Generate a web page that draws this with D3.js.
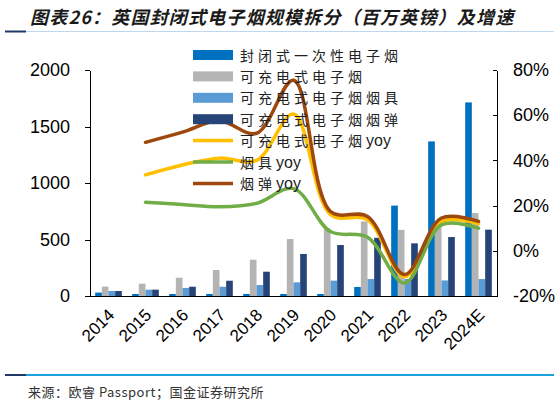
<!DOCTYPE html>
<html>
<head>
<meta charset="utf-8">
<script src="https://cdn.jsdelivr.net/npm/d3@7"></script>
<style>
	body { margin: 0; background: #fff; }
	svg { display: block; }
	.axis text { font-family: "Liberation Sans", Arial, sans-serif; font-size: 18px; fill: #000; }
	.axis path, .axis line { stroke: #000; stroke-width: 1; shape-rendering: crispEdges; }
</style>
</head>
<body>
<svg id="chart"></svg>
<script>
// values (百万英镑, yoy in %)
var years = ["2014", "2015", "2016", "2017", "2018", "2019", "2020", "2021", "2022", "2023", "2024E"];
var closedDisposable = [30, 18, 18, 18, 18, 18, 18, 80, 800, 1368, 1713];
var rechargeable = [83, 109, 162, 230, 321, 504, 600, 660, 585, 655, 734];
var rechargeableDevice = [44, 56, 71, 82, 97, 121, 136, 150, 150, 138, 150];
var rechargeablePod = [44, 56, 82, 135, 215, 372, 451, 515, 466, 522, 587];
var rechargeableYoy = [null, 33.6, 38, 41, 40, 60.5, 16, 13.7, -11.5, 13, 12];
var deviceYoy = [null, 21.5, 20.5, 19.5, 21, 27.5, 8.5, 6, -14.2, 11.5, 10];
var podYoy = [null, 48, 52.5, 57.5, 52, 75.5, 17.4, 15.2, -10.5, 14.5, 13];

var leftTicks = [0, 500, 1000, 1500, 2000];
var rightTicks = [-20, 0, 20, 40, 60, 80];

var barSeries = [
	{ name: "封闭式一次性电子烟", values: closedDisposable, color: "#0070C0" },
	{ name: "可充电式电子烟", values: rechargeable, color: "#B4B4B4" },
	{ name: "可充电式电子烟烟具", values: rechargeableDevice, color: "#5B9BD5" },
	{ name: "可充电式电子烟烟弹", values: rechargeablePod, color: "#264478" }
];
var lineSeries = [
	{ name: "可充电式电子烟", suffix: "yoy", values: rechargeableYoy, color: "#FFC000" },
	{ name: "烟具", suffix: "yoy", values: deviceYoy, color: "#70AD47" },
	{ name: "烟弹", suffix: "yoy", values: podYoy, color: "#9E480E" }
];

var width = 560, height = 404;
var plot = { left: 90, right: 497, top: 70, bottom: 296 };
var cjk = "'Noto Sans CJK SC', 'Noto Sans CJK JP', sans-serif";

var svg = d3.select("#chart")
	.attr("width", width)
	.attr("height", height);

svg.append("rect").attr("width", width).attr("height", height).attr("fill", "#fff");

// title + rule
svg.append("text")
	.attr("x", 30)
	.attr("y", 24)
	.attr("font-family", cjk)
	.attr("font-size", 18)
	.attr("font-weight", "bold")
	.attr("font-style", "italic")
	.attr("letter-spacing", 1.2)
	.attr("fill", "#1a1a1a")
	.text("图表26：英国封闭式电子烟规模拆分（百万英镑）及增速");

svg.append("line").attr("x1", 5).attr("x2", 554).attr("y1", 31.5).attr("y2", 31.5)
	.attr("stroke", "#BDD7EE").attr("stroke-width", 1);
svg.append("line").attr("x1", 5).attr("x2", 26).attr("y1", 31.5).attr("y2", 31.5)
	.attr("stroke", "#1F3864").attr("stroke-width", 2);

var x0 = d3.scaleBand()
	.domain(years)
	.range([plot.left, plot.right])
	.paddingInner(0.28)
	.paddingOuter(0.14);

var x1 = d3.scaleBand()
	.domain(d3.range(barSeries.length))
	.range([0, x0.bandwidth()]);

var yLeft = d3.scaleLinear().domain([0, 2000]).range([plot.bottom, plot.top]);
var yRight = d3.scaleLinear().domain([-20, 80]).range([plot.bottom, plot.top]);

// bars
var groups = svg.append("g")
	.selectAll("g")
	.data(years)
	.enter().append("g")
	.attr("transform", function (d) { return "translate(" + x0(d) + ",0)"; });

groups.selectAll("rect")
	.data(function (d, i) { return barSeries.map(function (s, k) { return { k: k, v: s.values[i], color: s.color }; }); })
	.enter().append("rect")
	.attr("x", function (d) { return x1(d.k); })
	.attr("width", x1.bandwidth())
	.attr("y", function (d) { return yLeft(d.v); })
	.attr("height", function (d) { return plot.bottom - yLeft(d.v); })
	.attr("fill", function (d) { return d.color; });

// axes
svg.append("g")
	.attr("class", "axis")
	.attr("transform", "translate(" + plot.left + ",0)")
	.call(d3.axisLeft(yLeft).tickValues(leftTicks).tickSizeInner(5).tickSizeOuter(0).tickPadding(15)
		.tickFormat(d3.format("d")));

svg.append("g")
	.attr("class", "axis")
	.attr("transform", "translate(" + plot.right + ",0)")
	.call(d3.axisRight(yRight).tickValues(rightTicks).tickSizeInner(-4).tickSizeOuter(0).tickPadding(16)
		.tickFormat(function (d) { return d + "%"; }));

var xAxis = svg.append("g")
	.attr("class", "axis")
	.attr("transform", "translate(0," + plot.bottom + ")")
	.call(d3.axisBottom(x0).tickSize(0).tickSizeOuter(0));

xAxis.selectAll("text")
	.attr("x", 0)
	.attr("y", 0)
	.attr("dy", 0)
	.style("font-size", "17px")
	.style("text-anchor", "end")
	.attr("transform", "translate(7,20) rotate(-45)");

// yoy lines (smoothed like the excel original)
var line = d3.line()
	.defined(function (d) { return d != null; })
	.x(function (d, i) { return x0(years[i]) + x0.bandwidth() / 2; })
	.y(function (d) { return yRight(d); })
	.curve(d3.curveCatmullRom.alpha(0.5));

svg.append("g")
	.selectAll("path")
	.data(lineSeries)
	.enter().append("path")
	.attr("d", function (d) { return line(d.values); })
	.attr("fill", "none")
	.attr("stroke", function (d) { return d.color; })
	.attr("stroke-width", 3.5)
	.attr("stroke-linecap", "round");

// legend
var legendItems = barSeries.map(function (s) { return { name: s.name, suffix: "", color: s.color, type: "bar" }; })
	.concat(lineSeries.map(function (s) { return { name: s.name, suffix: s.suffix, color: s.color, type: "line" }; }));

var legend = svg.append("g")
	.selectAll("g")
	.data(legendItems)
	.enter().append("g")
	.attr("transform", function (d, i) { return "translate(193," + (55 + i * 21.4) + ")"; });

legend.filter(function (d) { return d.type == "bar"; })
	.append("rect")
	.attr("x", 0).attr("y", -5)
	.attr("width", 40).attr("height", 10)
	.attr("fill", function (d) { return d.color; });

legend.filter(function (d) { return d.type == "line"; })
	.append("line")
	.attr("x1", 0).attr("x2", 40)
	.attr("stroke", function (d) { return d.color; })
	.attr("stroke-width", 3.5);

var lt = legend.append("text")
	.attr("x", 47)
	.attr("y", 5.5)
	.attr("font-family", cjk)
	.attr("font-size", 14)
	.attr("letter-spacing", 4)
	.attr("fill", "#222");
lt.append("tspan").text(function (d) { return d.name; });
lt.append("tspan")
	.attr("font-family", "'Liberation Sans', Arial, sans-serif")
	.attr("font-size", 16)
	.attr("letter-spacing", 0)
	.text(function (d) { return d.suffix; });

// footer
svg.append("line").attr("x1", 5).attr("x2", 554).attr("y1", 375).attr("y2", 375)
	.attr("stroke", "#1DA1DC").attr("stroke-width", 2);
svg.append("line").attr("x1", 5).attr("x2", 26).attr("y1", 375).attr("y2", 375)
	.attr("stroke", "#1F3864").attr("stroke-width", 2);

svg.append("text")
	.attr("x", 28)
	.attr("y", 397)
	.attr("font-family", cjk)
	.attr("font-size", 13)
	.attr("letter-spacing", 0.5)
	.attr("fill", "#333")
	.text("来源：欧睿 Passport；国金证券研究所");
</script>
</body>
</html>
